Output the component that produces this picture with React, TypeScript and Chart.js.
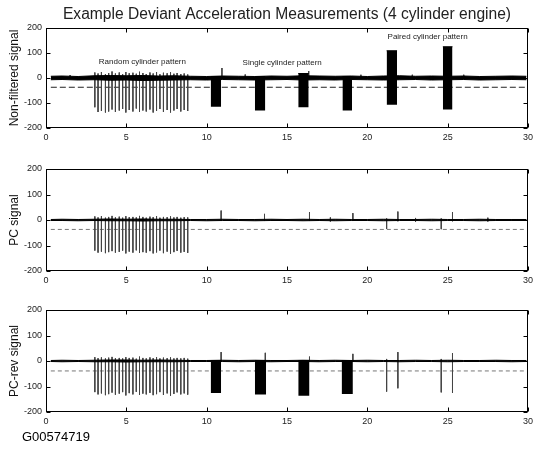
import React, { useEffect, useRef } from 'react';
import { Chart, registerables } from 'chart.js';

Chart.register(...registerables);

// ---------- data ----------
const chartTitle = 'Example Deviant Acceleration Measurements (4 cylinder engine)';
const yTitles = ['Non-filtered signal', 'PC signal', 'PC-rev signal'];
const footerLabel = 'G00574719';

const xTickStep = 5;
const xRange = [0, 30];
const yTickStep = 100;
const yRange = [-200, 200];

const annotationTexts = ['Random cylinder pattern', 'Single cylinder pattern', 'Paired cylinder pattern'];
const annotationX = [6.0, 14.7, 23.75];
const annotationY = [64, 60, 164];

// noise envelope (sampled)
const noiseX = [0.3, 1, 2, 3, 4, 5, 6, 7, 8, 9, 10, 11, 12, 13, 14, 15, 16, 17, 18, 19, 20, 21, 22, 23, 24, 25, 26, 27, 28, 29, 29.9];
const noiseHi1 = [7, 8, 6, 9, 10, 9, 10, 8, 9, 7, 6, 8, 7, 6, 8, 7, 9, 8, 7, 8, 6, 8, 9, 7, 8, 7, 8, 6, 7, 8, 7];
const noiseLo1 = [-7, -6, -8, -7, -9, -8, -10, -9, -8, -7, -8, -6, -7, -8, -7, -6, -8, -7, -8, -6, -7, -8, -7, -6, -8, -7, -6, -8, -7, -6, -7];
const noiseHi2 = [2, 3, 2, 3, 4, 3, 4, 3, 3, 2, 2, 3, 2, 2, 3, 2, 3, 2, 3, 2, 2, 3, 2, 2, 3, 2, 2, 3, 2, 2, 2];
const noiseLo2 = [-2, -2, -3, -2, -3, -3, -4, -3, -3, -2, -3, -2, -2, -3, -2, -2, -3, -2, -3, -2, -2, -3, -2, -2, -3, -2, -2, -3, -2, -2, -2];
const noiseHi3 = [2, 3, 2, 3, 4, 4, 3, 4, 3, 2, 2, 3, 2, 3, 2, 2, 3, 2, 3, 2, 3, 2, 2, 3, 2, 3, 2, 2, 3, 2, 2];
const noiseLo3 = [-2, -3, -2, -3, -3, -4, -3, -3, -3, -2, -2, -2, -3, -2, -3, -2, -2, -3, -2, -2, -3, -2, -3, -2, -2, -3, -2, -2, -2, -3, -2];

// random cylinder pattern spikes
const spikeX = [3.04, 3.24, 3.45, 3.70, 3.90, 4.11, 4.32, 4.56, 4.77, 4.97, 5.18, 5.41, 5.62, 5.82, 6.03, 6.24, 6.47, 6.67, 6.88, 7.09, 7.31, 7.54, 7.75, 7.96, 8.16, 8.39, 8.60, 8.82];
const spikeTop1 = [22, 18, 24, 16, 20, 26, 18, 22, 15, 24, 19, 21, 17, 25, 20, 16, 22, 18, 24, 15, 21, 19, 23, 17, 20, 16, 18, 14];
const spikeLow1 = [-117, -136, -132, -138, -134, -126, -136, -130, -124, -138, -128, -134, -122, -136, -130, -134, -126, -138, -132, -124, -136, -128, -138, -130, -124, -134, -128, -132];
const spikeTop2 = [14, 10, 15, 9, 12, 16, 10, 13, 9, 15, 11, 12, 10, 16, 12, 9, 13, 11, 15, 9, 12, 11, 14, 10, 12, 9, 11, 10];
const spikeLow2 = [-120, -128, -124, -130, -126, -122, -128, -125, -120, -131, -124, -128, -119, -129, -126, -128, -122, -131, -127, -120, -130, -124, -132, -126, -121, -128, -125, -129];
const spikeTop3 = [15, 11, 14, 10, 13, 16, 11, 12, 10, 15, 12, 13, 9, 17, 12, 10, 14, 11, 15, 10, 13, 11, 14, 10, 12, 10, 12, 9];
const spikeLow3 = [-122, -131, -127, -134, -130, -124, -132, -128, -122, -135, -126, -131, -121, -133, -128, -131, -125, -134, -130, -122, -133, -127, -136, -129, -123, -131, -127, -132];

// other isolated spikes
const extraX1 = [10.95, 16.35, 12.4, 19.6, 26.0, 1.5, 22.8];
const extraTop1 = [40, 28, 14, 13, 13, 12, 13];
const extraLow1 = [0, 0, 0, 0, 0, 0, 0];
const extraX2 = [10.9, 13.6, 16.4, 19.1, 21.2, 21.9, 24.6, 25.3, 17.7, 23.0, 27.5];
const extraTop2 = [37, 24, 31, 27, 6, 33, 6, 31, 10, 8, 9];
const extraLow2 = [-4, -4, -4, -4, -35, -5, -36, -5, -6, -7, -6];
const extraX3 = [10.9, 13.65, 16.4, 19.1, 21.2, 21.9, 24.6, 25.3];
const extraTop3 = [35, 32, 17, 28, 8, 35, 8, 31];
const extraLow3 = [-4, -4, -4, -4, -120, -107, -123, -125];

// dense oscillation blocks
const blockStart1 = [10.25, 13.0, 15.7, 18.45, 21.2, 24.7];
const blockEnd1 = [10.9, 13.65, 16.35, 19.05, 21.85, 25.3];
const blockHigh1 = [6, 6, 18, 6, 109, 125];
const blockLow1 = [-115, -130, -117, -130, -107, -126];
const blockStart2: number[] = [];
const blockEnd2: number[] = [];
const blockHigh2: number[] = [];
const blockLow2: number[] = [];
const blockStart3 = [10.25, 13.0, 15.7, 18.4];
const blockEnd3 = [10.9, 13.7, 16.4, 19.1];
const blockHigh3 = [2, 2, 2, 2];
const blockLow3 = [-125, -131, -136, -129];

// detection threshold (dashed)
const thresholdX = [0.3, 29.9];
const threshold = [-37, -37, -39];

// ---------- rendering ----------
const FONT = "'Liberation Sans', Arial, Helvetica, sans-serif";

function spikeData(xs: number[], tops: number[], lows: number[]) {
  const out: { x: number; y: number | null }[] = [];
  xs.forEach((x, i) => {
    out.push({ x, y: tops[i] });
    out.push({ x, y: lows[i] });
    out.push({ x, y: null });
  });
  return out;
}

function buildDatasets(p: any) {
  const ds: any[] = [];
  p.bs.forEach((s: number, i: number) => {
    ds.push({
      data: [{ x: s, y: p.bh[i] }, { x: p.be[i], y: p.bh[i] }],
      fill: { value: p.bl[i] },
      backgroundColor: '#000',
      borderColor: '#000',
      borderWidth: 1,
    });
  });
  ds.push({
    data: noiseX.map((x, i) => ({ x, y: p.hi[i] })),
    fill: '+1',
    backgroundColor: '#000',
    borderColor: '#000',
    borderWidth: p.bw,
  });
  ds.push({
    data: noiseX.map((x, i) => ({ x, y: p.lo[i] })),
    fill: false,
    borderColor: '#000',
    borderWidth: p.bw,
  });
  ds.push({
    data: spikeData(spikeX, p.st, p.sl),
    fill: false,
    borderColor: p.spikeColor,
    borderWidth: 1,
    spanGaps: false,
  });
  ds.push({
    data: spikeData(p.ex, p.et, p.el),
    fill: false,
    borderColor: p.spikeColor,
    borderWidth: 1,
    spanGaps: false,
  });
  ds.push({
    data: thresholdX.map((x) => ({ x, y: p.th })),
    fill: false,
    borderColor: p.dashColor,
    borderDash: p.dash,
    borderWidth: 1,
  });
  return ds;
}

const framePlugin = {
  id: 'frame',
  afterDraw(chart: any, _args: any, opts: any) {
    const { ctx, chartArea: a } = chart;
    const xs = chart.scales.x;
    const ys = chart.scales.y;
    ctx.save();
    ctx.strokeStyle = '#000';
    ctx.lineWidth = 1;
    const L = Math.round(a.left) + 0.5;
    const R = Math.round(a.right) - 0.5;
    const T = Math.round(a.top) + 0.5;
    const B = Math.round(a.bottom) - 0.5;
    ctx.strokeRect(L, T, R - L, B - T);
    ctx.beginPath();
    xs.ticks.forEach((t: any) => {
      const px = Math.round(xs.getPixelForValue(t.value)) + 0.5;
      ctx.moveTo(px, B);
      ctx.lineTo(px, B - 4);
      ctx.moveTo(px, T);
      ctx.lineTo(px, T + 4);
    });
    ys.ticks.forEach((t: any) => {
      const py = Math.round(ys.getPixelForValue(t.value)) + 0.5;
      ctx.moveTo(L, py);
      ctx.lineTo(L + 4, py);
      ctx.moveTo(R, py);
      ctx.lineTo(R - 4, py);
    });
    ctx.stroke();

    ctx.fillStyle = '#111';
    ctx.textAlign = 'center';
    ctx.textBaseline = 'middle';
    // y title
    ctx.save();
    ctx.translate(15, (a.top + a.bottom) / 2);
    ctx.rotate(-Math.PI / 2);
    ctx.font = `12px ${FONT}`;
    ctx.fillText(opts.yTitle, 0, 0);
    ctx.restore();

    if (opts.title) {
      ctx.font = `15.6px ${FONT}`;
      ctx.fillStyle = '#222';
      ctx.fillText(opts.title, (a.left + a.right) / 2, 15);
    }
    if (opts.annotations) {
      ctx.font = `8px ${FONT}`;
      ctx.fillStyle = '#222';
      annotationTexts.forEach((txt, i) => {
        ctx.fillText(txt, xs.getPixelForValue(annotationX[i]), ys.getPixelForValue(annotationY[i]));
      });
    }
    if (opts.footer) {
      ctx.font = `13px ${FONT}`;
      ctx.fillStyle = '#000';
      ctx.textAlign = 'left';
      ctx.fillText(opts.footer, 22, opts.footerY);
    }
    ctx.restore();
  },
};

function makeConfig(p: any, padTop: number, xHeight: number, frameOpts: any) {
  return {
    type: 'line',
    data: { datasets: buildDatasets(p) },
    options: {
      responsive: false,
      maintainAspectRatio: false,
      animation: false,
      events: [],
      elements: { point: { radius: 0 }, line: { tension: 0 } },
      layout: { padding: { top: padTop, right: 22, bottom: 0, left: 0 }, autoPadding: false },
      plugins: {
        legend: { display: false },
        tooltip: { enabled: false },
        frame: frameOpts,
      },
      scales: {
        x: {
          type: 'linear',
          min: xRange[0],
          max: xRange[1],
          ticks: { stepSize: xTickStep, padding: 4, color: '#222', font: { family: FONT, size: 9 }, maxRotation: 0, autoSkip: false },
          grid: { display: false, drawTicks: false },
          border: { display: false },
          afterFit: (s: any) => { s.height = xHeight; },
        },
        y: {
          type: 'linear',
          min: yRange[0],
          max: yRange[1],
          ticks: { stepSize: yTickStep, padding: 4, color: '#222', font: { family: FONT, size: 9 } },
          grid: { display: false, drawTicks: false },
          border: { display: false },
          afterFit: (s: any) => { s.width = 46; },
        },
      },
    },
    plugins: [framePlugin],
  } as any;
}

const plot1 = { hi: noiseHi1, lo: noiseLo1, bw: 1, st: spikeTop1, sl: spikeLow1, ex: extraX1, et: extraTop1, el: extraLow1, bs: blockStart1, be: blockEnd1, bh: blockHigh1, bl: blockLow1, th: threshold[0], spikeColor: '#444', dashColor: '#222', dash: [6, 3] };
const plot2 = { hi: noiseHi2, lo: noiseLo2, bw: 1, st: spikeTop2, sl: spikeLow2, ex: extraX2, et: extraTop2, el: extraLow2, bs: blockStart2, be: blockEnd2, bh: blockHigh2, bl: blockLow2, th: threshold[1], spikeColor: '#444', dashColor: '#777', dash: [4, 3] };
const plot3 = { hi: noiseHi3, lo: noiseLo3, bw: 1, st: spikeTop3, sl: spikeLow3, ex: extraX3, et: extraTop3, el: extraLow3, bs: blockStart3, be: blockEnd3, bh: blockHigh3, bl: blockLow3, th: threshold[2], spikeColor: '#444', dashColor: '#777', dash: [4, 3] };

export default function App() {
  const r1 = useRef<HTMLCanvasElement>(null);
  const r2 = useRef<HTMLCanvasElement>(null);
  const r3 = useRef<HTMLCanvasElement>(null);

  useEffect(() => {
    const charts = [
      new Chart(r1.current as HTMLCanvasElement, makeConfig(plot1, 28, 22, { yTitle: yTitles[0], title: chartTitle, annotations: true })),
      new Chart(r2.current as HTMLCanvasElement, makeConfig(plot2, 19, 21, { yTitle: yTitles[1] })),
      new Chart(r3.current as HTMLCanvasElement, makeConfig(plot3, 18, 38, { yTitle: yTitles[2], footer: footerLabel, footerY: 145 })),
    ];
    return () => charts.forEach((c) => c.destroy());
  }, []);

  return (
    <div style={{ position: 'absolute', left: 0, top: 0, width: 550, height: 450, background: '#fff' }}>
      <canvas ref={r1} width={550} height={150} style={{ position: 'absolute', left: 0, top: 0 }} />
      <canvas ref={r2} width={550} height={142} style={{ position: 'absolute', left: 0, top: 150 }} />
      <canvas ref={r3} width={550} height={158} style={{ position: 'absolute', left: 0, top: 292 }} />
    </div>
  );
}
